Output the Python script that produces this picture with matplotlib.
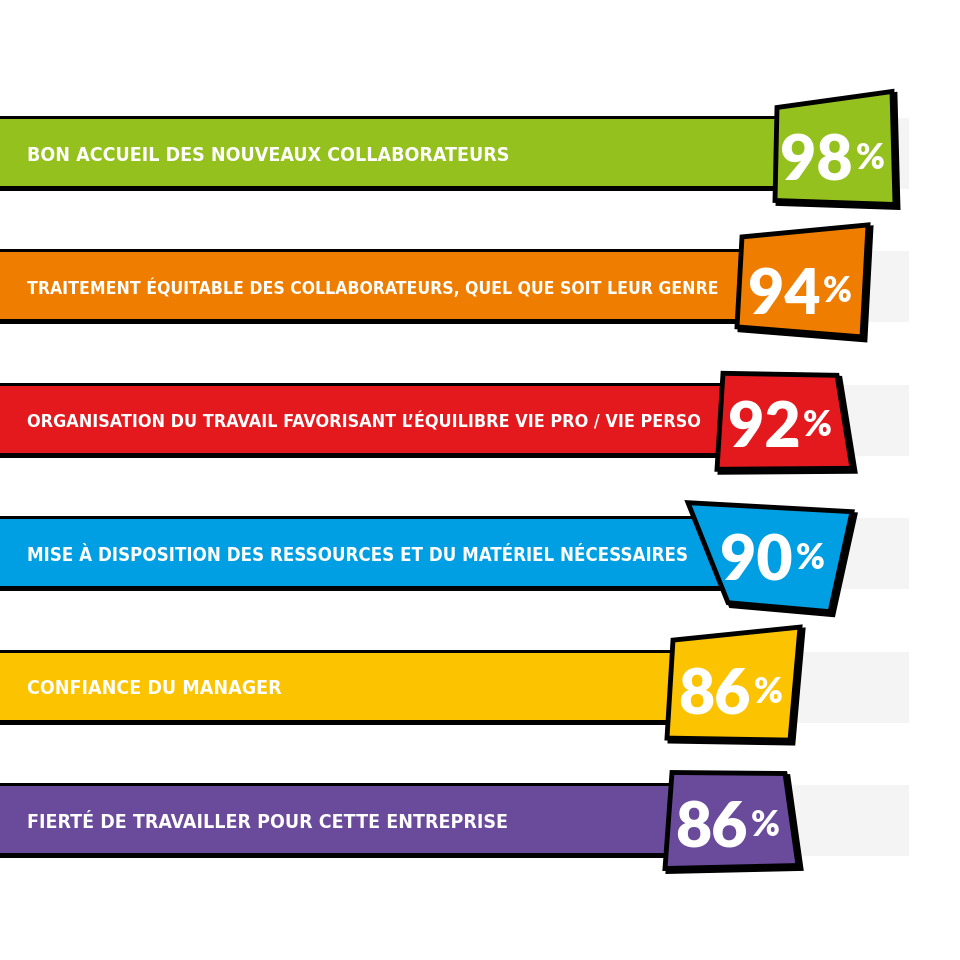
import numpy as np
import matplotlib.pyplot as plt
from matplotlib.patches import Polygon

# Data
labels = [
    "BON ACCUEIL DES NOUVEAUX COLLABORATEURS",
    "TRAITEMENT ÉQUITABLE DES COLLABORATEURS, QUEL QUE SOIT LEUR GENRE",
    "ORGANISATION DU TRAVAIL FAVORISANT L’ÉQUILIBRE VIE PRO / VIE PERSO",
    "MISE À DISPOSITION DES RESSOURCES ET DU MATÉRIEL NÉCESSAIRES",
    "CONFIANCE DU MANAGER",
    "FIERTÉ DE TRAVAILLER POUR CETTE ENTREPRISE",
]
values = [98, 94, 92, 90, 86, 86]
colors = ["#95c11f", "#ef7d00", "#e3191e", "#009fe3", "#fcc300", "#6a4a9b"]

# style: skewed value boxes, corner offsets in pixels (TL, TR, BR, BL)
# relative to (value, row centre)
box_shapes = [
    [(-113, -46), (2, -62), (5, 51), (-115, 47)],
    [(-118, -50), (8, -62), (2, 50), (-123, 40)],
    [(-122, -47), (-8, -45), (7, 48), (-128, 49)],
    [(-142, -51), (22, -42), (0, 58), (-102, 49)],
    [(-127, -47), (0, -60), (-10, 53), (-133, 51)],
    [(-128, -48), (-15, -47), (-2, 45), (-135, 48)],
]

PXX = 7.5     # pixels per percent
PXY = 133.4   # pixels per row
XMIN, XMAX = 100 - 905 / PXX, 100 + 55 / PXX
YTOP, YBOT = -153.5 / PXY, (960 - 153.5) / PXY

fig = plt.figure(figsize=(9.6, 9.6), dpi=100)
ax = fig.add_axes([0, 0, 1, 1])
ax.set_xlim(XMIN, XMAX)
ax.set_ylim(YBOT, YTOP)
ax.axis('off')
renderer = fig.canvas.get_renderer()

def dx(p):
    return p / PXX

def dy(p):
    return p / PXY

rows = np.arange(len(values))

# light grey tracks (100 %)
ax.barh(rows, [100.5 - XMIN] * len(rows), left=XMIN, height=dy(71),
        color="#f4f4f4", zorder=1)

for i, (lab, v, c, shape) in enumerate(zip(labels, values, colors, box_shapes)):
    # main bar with black outline
    ax.barh(i, v - 8 - XMIN + 2, left=XMIN - 2, height=dy(75),
            color="black", zorder=2)
    ax.barh(i - dy(1), v - 8 - XMIN + 2, left=XMIN - 2, height=dy(67),
            color=c, zorder=3)

    # value box
    pts = np.array([(v + dx(a), i + dy(b)) for a, b in shape])
    shadow = pts + np.array([dx(3), dy(3)])
    ax.add_patch(Polygon(shadow, closed=True, facecolor="black",
                         edgecolor="black", lw=3.5, joinstyle="miter",
                         zorder=5))
    ax.add_patch(Polygon(pts, closed=True, facecolor=c, edgecolor="black",
                         lw=3.5, joinstyle="miter", zorder=6))
    cx = pts[:, 0].mean()
    ax.text(cx + dx(18), i + dy(27), str(v), color="white", fontsize=45,
            family="Lato", fontweight="heavy", ha="right", va="baseline",
            zorder=7)
    ax.text(cx + dx(21), i + dy(5), "%", color="white", fontsize=25,
            family="Lato", fontweight="heavy", ha="left", va="center",
            zorder=7)

    # label, shrunk if it would run under the value box
    t = ax.text(XMIN + dx(27), i + dy(7), lab, color="white", fontsize=14,
                family="DejaVu Sans", fontstretch="condensed",
                fontweight="bold", va="baseline", ha="left", zorder=4)
    limit = ax.transData.transform(((pts[0, 0] + pts[3, 0]) / 2 - dx(18), i))[0]
    ext = t.get_window_extent(renderer)
    if ext.x1 > limit:
        fs = 14 * (limit - ext.x0) / (ext.x1 - ext.x0)
        t.set_fontsize(fs)

fig.savefig("out.png", dpi=100, facecolor="white")
